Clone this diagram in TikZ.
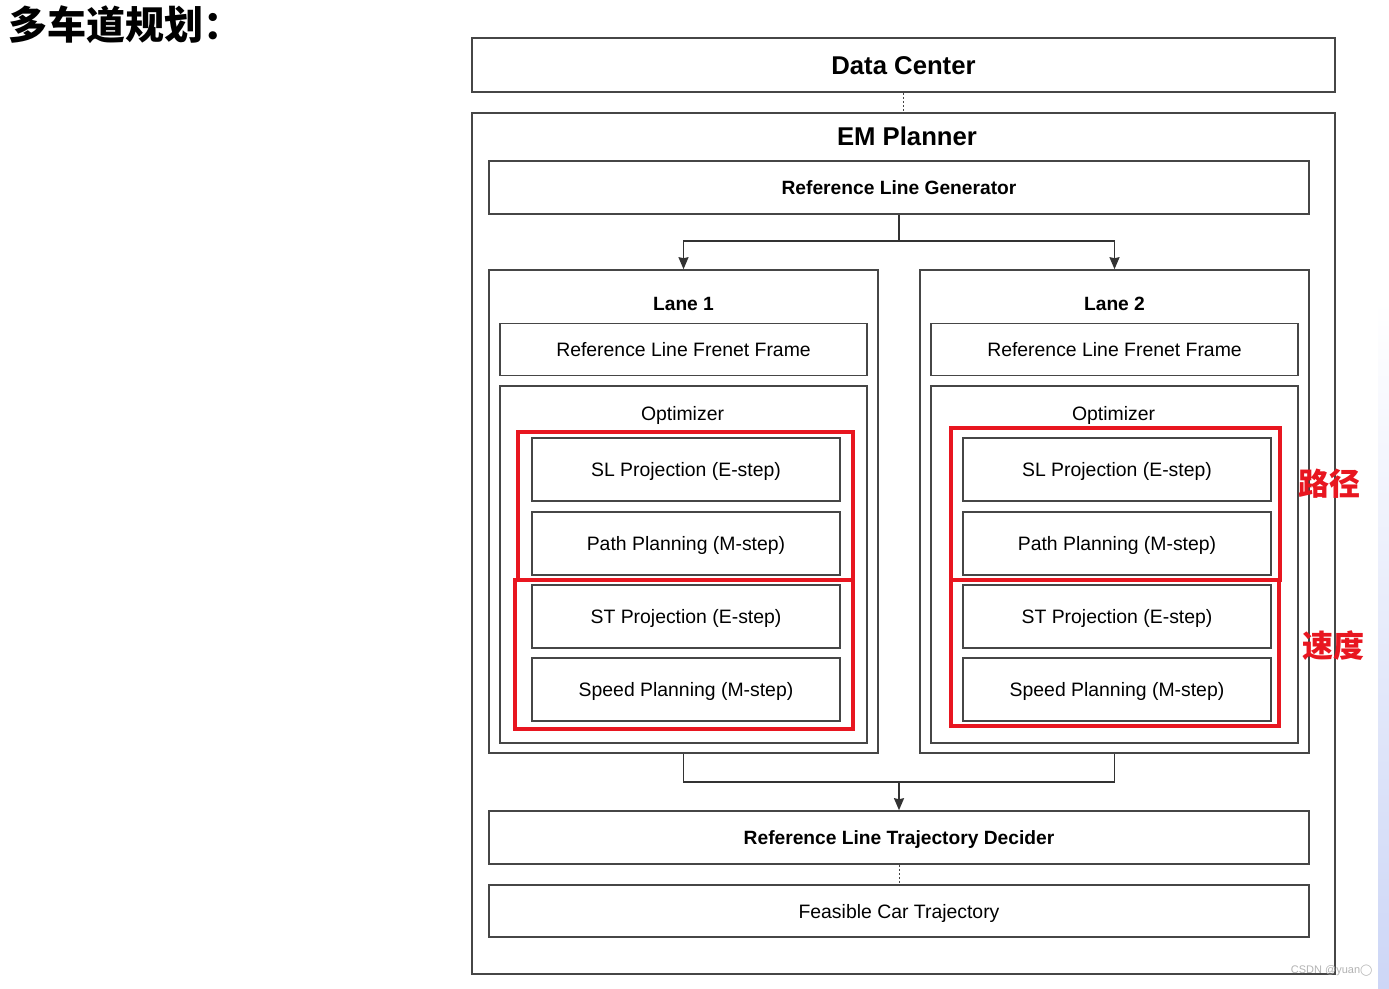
\documentclass[tikz,border=0pt]{standalone}
\usepackage{fontspec}
\setmainfont{Liberation Sans}
\newfontfamily\cjkfont{Noto Sans CJK SC}
\newfontfamily\symfont{DejaVu Sans}
\usetikzlibrary{arrows.meta,positioning}
\definecolor{hlred}{RGB}{232,22,32}
\definecolor{boxgray}{RGB}{70,70,70}
\definecolor{slideblue}{RGB}{205,214,246}
\tikzset{
  blk/.style={draw=boxgray, line width=1.6pt, inner sep=0pt, text height=14pt, text depth=0pt, font=\fontsize{19.4}{22}\selectfont},
  hd/.style={text height=18.4pt, text depth=0pt, font=\bfseries\fontsize{25.7}{28}\selectfont},
  sub/.style={text height=14pt, text depth=0pt, font=\bfseries\fontsize{19.2}{22}\selectfont},
  txt/.style={text height=14pt, text depth=0pt, font=\fontsize{19.4}{22}\selectfont},
  stepbox/.style={minimum width=308pt, minimum height=63pt},
  hl/.style={draw=hlred, line width=3.2pt},
  cn/.style={text=hlred, font=\cjkfont\bfseries\fontsize{31}{34}\selectfont},
  link/.style={draw=black!80, line width=1.6pt},
  arr/.style={-{Stealth[length=12pt,width=10pt,inset=1pt]}},
  dotline/.style={draw=boxgray, line width=1pt, dash pattern=on 2pt off 2pt}
}
\begin{document}
\begin{tikzpicture}[x=1pt,y=-1pt]
\useasboundingbox (0,0) rectangle (1389,988);
\fill[top color=white, bottom color=slideblue] (1378,300) rectangle (1389,988);

\node[anchor=west, font=\cjkfont\bfseries\fontsize{39}{42}\selectfont] (title) at (5,25) {多车道规划：};

\node[blk,hd,minimum width=863pt,minimum height=54pt] (data) at (903.5,65) {Data Center};
\node[blk,minimum width=863pt,minimum height=861pt] (em) at (903.5,543.5) {};
\node[hd] (emtitle) at (907,136) {EM Planner};
\node[blk,sub,minimum width=820pt,minimum height=53pt] (gen) at (899,187.5) {Reference Line Generator};
\draw[dotline] (data) -- (em);

\foreach \l/\x in {1/683.5,2/1114.5}{
    \node[blk,minimum width=389pt,minimum height=483pt] (lane\l) at (\x,511.5) {};
    \node[sub] (lanetitle\l) at (\x,303) {Lane \l};
    \node[blk,minimum width=367pt,minimum height=52pt] (frenet\l) at (\x,349.5) {Reference Line Frenet Frame};
    \node[blk,minimum width=367pt,minimum height=357pt] (opt\l) at (\x,564.5) {};
    \node[txt] (opttitle\l) at (\x-1,413) {Optimizer};
    \foreach \k/\y/\t in {sl/469.5/SL Projection (E-step), path/543.5/Path Planning (M-step), st/616.5/ST Projection (E-step), speed/689.5/Speed Planning (M-step)}{
        \node[blk,stepbox] (\k\l) at (\x+2.5,\y) {\t};
    }
}

% highlighted groups
\draw[hl] (518,432) rectangle (853,580);
\draw[hl] (515,580) rectangle (853,729);
\draw[hl] (951,428) rectangle (1280,580);
\draw[hl] (951,580) rectangle (1279,726);
\node[cn] (pathlabel) at (1329,484) {路径};
\node[cn] (speedlabel) at (1333,646) {速度};

\coordinate (split) at (gen.south |- 0,241);
\draw[link] (gen.south) -- (split);
\draw[link,arr] (split) -| (lane1.north);
\draw[link,arr] (split) -| (lane2.north);

\node[blk,sub,minimum width=820pt,minimum height=53pt] (decider) at (899,837.5) {Reference Line Trajectory Decider};
\node[blk,minimum width=820pt,minimum height=52pt] (feasible) at (899,911) {Feasible Car Trajectory};

\coordinate (merge) at (899,782);
\draw[link] (lane1.south) |- (merge) -| (lane2.south);
\draw[link,arr] (merge) -- (decider.north);
\draw[dotline] (decider) -- (feasible);

\node[anchor=east, text=gray!60, font=\fontsize{11}{12}\selectfont] (mark) at (1376,971) {CSDN @yuan{\symfont ◯}};
\end{tikzpicture}
\end{document}
